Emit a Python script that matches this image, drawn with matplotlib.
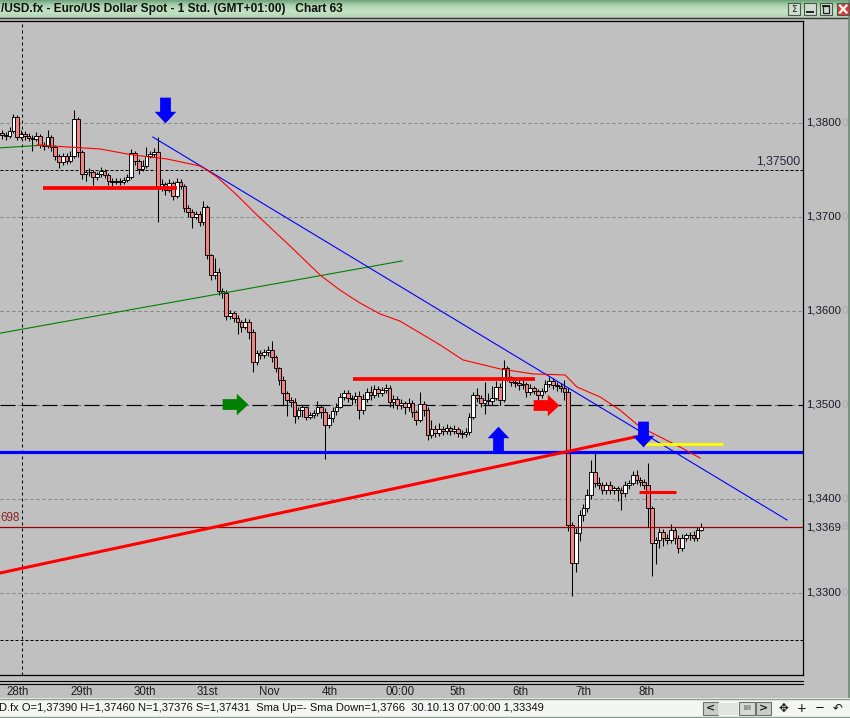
import matplotlib
matplotlib.use("Agg")
import matplotlib.pyplot as plt
import numpy as np
from matplotlib.path import Path
from matplotlib.patches import Rectangle
import matplotlib.transforms as mtrans

plt.rcParams['lines.scale_dashes'] = False

# ------------------------------------------------------------------ data
first_open = 1.3789
close = [
    1.3787, 1.3786, 1.3791, 1.3806, 1.3785, 1.3788, 1.3786, 1.3784, 1.3783, 1.3786,
    1.3776, 1.3775, 1.3785, 1.3774, 1.3765, 1.3758, 1.3765, 1.3759, 1.3765, 1.3804,
    1.3769, 1.3745, 1.3747, 1.3748, 1.3742, 1.3745, 1.3749, 1.3744, 1.3738, 1.3737,
    1.3738, 1.3737, 1.3739, 1.3742, 1.3768, 1.3759, 1.3751, 1.3754, 1.3765, 1.3767,
    1.3769, 1.3731, 1.3735, 1.3728, 1.3736, 1.3722, 1.3737, 1.3733, 1.3709, 1.3705,
    1.3700, 1.3703, 1.3694, 1.3710, 1.3659, 1.3638, 1.3641, 1.3621, 1.3619, 1.3594,
    1.3598, 1.3592, 1.3588, 1.3583, 1.3588, 1.3577, 1.3545, 1.3555, 1.3553, 1.3556,
    1.3558, 1.3551, 1.3539, 1.3526, 1.3512, 1.3505, 1.3503, 1.3488, 1.3494, 1.3497,
    1.3487, 1.3489, 1.3491, 1.3497, 1.3492, 1.3478, 1.3486, 1.3493, 1.3498, 1.3508,
    1.3512, 1.3507, 1.3506, 1.3509, 1.3494, 1.3506, 1.3514, 1.3510, 1.3517, 1.3512,
    1.3516, 1.3518, 1.3503, 1.3506, 1.3500, 1.3502, 1.3497, 1.3502, 1.3492, 1.3484,
    1.3501, 1.3494, 1.3468, 1.3474, 1.3470, 1.3474, 1.3472, 1.3475, 1.3472, 1.3474,
    1.3470, 1.3469, 1.3471, 1.3487, 1.3510, 1.3507, 1.3502, 1.3505, 1.3504, 1.3507,
    1.3519, 1.3505, 1.3539, 1.3529, 1.3524, 1.3523, 1.3521, 1.3522, 1.3514, 1.3518,
    1.3515, 1.3510, 1.3515, 1.3522, 1.3525, 1.3521, 1.3520, 1.3518, 1.3514, 1.3372,
    1.3332, 1.3364, 1.3383, 1.3390, 1.3404, 1.3428, 1.3417, 1.3415, 1.3409, 1.3415,
    1.3409, 1.3411, 1.3409, 1.3406, 1.3415, 1.3417, 1.3425, 1.3420, 1.3418, 1.3415,
    1.3390, 1.3353, 1.3356, 1.3365, 1.3358, 1.3356, 1.3367, 1.3358, 1.3347, 1.3358,
    1.3361, 1.3361, 1.3358, 1.3367, 1.3370,
]
high = [
    1.3792, 1.3790, 1.3795, 1.3809, 1.3808, 1.3792, 1.3791, 1.3789, 1.3787, 1.3790,
    1.3788, 1.3779, 1.3792, 1.3787, 1.3776, 1.3767, 1.3768, 1.3768, 1.3770, 1.3813,
    1.3806, 1.3771, 1.3750, 1.3752, 1.3750, 1.3748, 1.3753, 1.3751, 1.3746, 1.3741,
    1.3741, 1.3741, 1.3742, 1.3745, 1.3772, 1.3770, 1.3761, 1.3760, 1.3774, 1.3770,
    1.3773, 1.3785, 1.3740, 1.3737, 1.3740, 1.3738, 1.3741, 1.3740, 1.3735, 1.3712,
    1.3708, 1.3706, 1.3706, 1.3717, 1.3712, 1.3660, 1.3656, 1.3645, 1.3624, 1.3622,
    1.3601, 1.3600, 1.3595, 1.3590, 1.3592, 1.3591, 1.3580, 1.3558, 1.3558, 1.3559,
    1.3562, 1.3568, 1.3553, 1.3540, 1.3530, 1.3515, 1.3508, 1.3507, 1.3498, 1.3500,
    1.3499, 1.3492, 1.3494, 1.3504, 1.3500, 1.3496, 1.3490, 1.3497, 1.3502, 1.3512,
    1.3516, 1.3516, 1.3510, 1.3514, 1.3515, 1.3511, 1.3518, 1.3520, 1.3521, 1.3520,
    1.3519, 1.3522, 1.3521, 1.3510, 1.3509, 1.3506, 1.3504, 1.3507, 1.3505, 1.3494,
    1.3514, 1.3504, 1.3497, 1.3484, 1.3478, 1.3481, 1.3477, 1.3479, 1.3477, 1.3478,
    1.3476, 1.3473, 1.3475, 1.3491, 1.3513, 1.3518, 1.3510, 1.3524, 1.3512, 1.3520,
    1.3525, 1.3523, 1.3548, 1.3541, 1.3531, 1.3527, 1.3527, 1.3526, 1.3524, 1.3522,
    1.3520, 1.3517, 1.3518, 1.3526, 1.3529, 1.3528, 1.3524, 1.3523, 1.3526, 1.3518,
    1.3375, 1.3369, 1.3388, 1.3394, 1.3410, 1.3441, 1.3449, 1.3423, 1.3418, 1.3418,
    1.3419, 1.3414, 1.3413, 1.3412, 1.3419, 1.3420, 1.3429, 1.3431, 1.3423, 1.3421,
    1.3438, 1.3392, 1.3359, 1.3369, 1.3368, 1.3362, 1.3373, 1.3370, 1.3361, 1.3362,
    1.3364, 1.3365, 1.3366, 1.3370, 1.3374,
]
low = [
    1.3783, 1.3782, 1.3784, 1.3789, 1.3782, 1.3783, 1.3782, 1.3780, 1.3770, 1.3781,
    1.3773, 1.3771, 1.3773, 1.3770, 1.3760, 1.3752, 1.3755, 1.3756, 1.3757, 1.3762,
    1.3764, 1.3740, 1.3738, 1.3743, 1.3734, 1.3739, 1.3742, 1.3741, 1.3734, 1.3733,
    1.3735, 1.3734, 1.3735, 1.3737, 1.3740, 1.3755, 1.3745, 1.3749, 1.3752, 1.3762,
    1.3764, 1.3694, 1.3727, 1.3723, 1.3726, 1.3718, 1.3720, 1.3729, 1.3705, 1.3700,
    1.3688, 1.3697, 1.3690, 1.3691, 1.3655, 1.3633, 1.3634, 1.3617, 1.3614, 1.3590,
    1.3591, 1.3588, 1.3575, 1.3577, 1.3580, 1.3570, 1.3535, 1.3542, 1.3549, 1.3550,
    1.3552, 1.3545, 1.3535, 1.3521, 1.3500, 1.3488, 1.3497, 1.3481, 1.3485, 1.3487,
    1.3484, 1.3485, 1.3486, 1.3488, 1.3486, 1.3442, 1.3475, 1.3482, 1.3489, 1.3496,
    1.3505, 1.3503, 1.3500, 1.3502, 1.3485, 1.3490, 1.3503, 1.3505, 1.3507, 1.3508,
    1.3509, 1.3512, 1.3497, 1.3496, 1.3495, 1.3495, 1.3490, 1.3493, 1.3487, 1.3478,
    1.3482, 1.3488, 1.3462, 1.3465, 1.3466, 1.3467, 1.3468, 1.3469, 1.3468, 1.3469,
    1.3466, 1.3465, 1.3466, 1.3468, 1.3485, 1.3503, 1.3497, 1.3490, 1.3500, 1.3500,
    1.3505, 1.3500, 1.3503, 1.3525, 1.3520, 1.3519, 1.3516, 1.3517, 1.3508, 1.3510,
    1.3511, 1.3505, 1.3507, 1.3512, 1.3519, 1.3517, 1.3515, 1.3513, 1.3505, 1.3366,
    1.3296, 1.3322, 1.3355, 1.3376, 1.3386, 1.3400, 1.3412, 1.3410, 1.3405, 1.3405,
    1.3405, 1.3405, 1.3398, 1.3388, 1.3402, 1.3410, 1.3415, 1.3416, 1.3414, 1.3410,
    1.3370, 1.3318, 1.3330, 1.3347, 1.3350, 1.3352, 1.3353, 1.3352, 1.3342, 1.3344,
    1.3355, 1.3356, 1.3355, 1.3355, 1.3366,
]

date_labels = ["28th", "29th", "30th", "31st", "Nov", "4th", "00:00", "5th", "6th", "7th", "8th"]
date_pos = [4.2, 20.9, 37.6, 54.1, 70.4, 86.3, 104.7, 119.9, 136.5, 152.9, 169.5]

grid_levels = [1.3800, 1.3700, 1.3600, 1.3500, 1.3400, 1.3300]
axis_levels = [1.3800, 1.3700, 1.3600, 1.3500, 1.3400, 1.3300]
axis_labels = ["1,3800", "1,3700", "1,3600", "1,3500", "1,3400", "1,3300"]
short_dash_levels = [1.3750, 1.3250]
long_dash_level = 1.3500
blue_level = 1.3450
last_level = 1.33698
last_label = "1,3369"
vline_bar = 5.3

ma_up_x = [-1.0, 11.3]
ma_up_y = [1.37731, 1.37762]
ma_down_x = [9.2, 25.8, 34.5, 43.4, 52.1, 53.9, 56.6, 61.8, 67.1, 71.3, 75.8, 83.7, 88.9,
             94.2, 99.5, 104.7, 110.0, 115.3, 121.3, 131.1, 139.7, 148.2, 151.3, 157.4,
             162.6, 167.9, 173.2, 178.4, 183.7]
ma_down_y = [1.37762, 1.37720, 1.37656, 1.37614, 1.37539, 1.37497, 1.37422, 1.37231, 1.37018,
             1.36858, 1.36688, 1.36380, 1.36220, 1.36082, 1.35965, 1.35890, 1.35763, 1.35635,
             1.35476, 1.35380, 1.35327, 1.35316, 1.35188, 1.35082, 1.34944, 1.34763, 1.34656,
             1.34550, 1.34433]

blue_trend_x = [39.7, 206.6]
blue_trend_y = [1.37847, 1.33773]
red_trend_x = [-1.0, 167.9]
red_trend_y = [1.33205, 1.34667]
green_trend_x = [-1.0, 105.3]
green_trend_y = [1.35757, 1.36529]

red_seg_x = [(10.8, 46.1), (92.4, 140.3), (167.6, 177.4)]
red_seg_y = [1.37305, 1.35271, 1.34071]
yellow_seg_x = (167.9, 189.7)
yellow_seg_y = 1.34578

arrow_x = [42.8, 61.3, 130.5, 143.2, 168.6]
arrow_y = [1.38135, 1.35007, 1.34640, 1.34997, 1.34683]
arrow_dir = ["down", "right", "up", "right", "down"]
arrow_col = ["#0000FF", "#008000", "#0000FF", "#FF0000", "#0000FF"]

title_text = "/USD.fx - Euro/US Dollar Spot - 1 Std. (GMT+01:00)   Chart 63"
status_text = "D.fx O=1,37390 H=1,37460 N=1,37376 S=1,37431  Sma Up=- Sma Down=1,3766  30.10.13 07:00:00 1,33349"

# ------------------------------------------------------------------ figure
W, H = 850, 718
fig = plt.figure(figsize=(W / 100, H / 100), dpi=100)
fig.patch.set_facecolor('#C0C0C0')
FONT = ['Liberation Sans', 'DejaVu Sans']

bg = fig.add_axes([0, 0, 1, 1], zorder=0)
bg.set_xlim(0, W)
bg.set_ylim(H, 0)
bg.axis('off')

# title bar gradient
stops = np.array([[0.40, 0.60, 0.46], [0.66, 0.82, 0.67], [0.78, 0.89, 0.78], [0.70, 0.85, 0.71]])
t = np.linspace(0, 1, 40)
grad = np.stack([np.interp(t, np.linspace(0, 1, 4), stops[:, k]) for k in range(3)], axis=1)
bg.imshow(grad[:, None, :], extent=[0, W, 17.5, 0], aspect='auto', zorder=0)
bg.plot([0, W], [17.8, 17.8], color='#3a3a3a', lw=1.0, zorder=1)
bg.text(1, 8.8, title_text, fontsize=8.6, fontweight='bold', family=FONT,
        va='center', ha='left', color='#101010')

# title buttons
for x0, kind in [(788, 's'), (804, 'min'), (820, 'max'), (837, 'x')]:
    fc = '#E03838' if kind == 'x' else '#CFDDCF'
    bg.add_patch(Rectangle((x0, 3), 12.5, 12, facecolor=fc, edgecolor='#4a5a4a', lw=0.8, zorder=2))
    if kind == 's':
        bg.text(x0 + 6.2, 9, "Σ", fontsize=6.5, family='DejaVu Sans', ha='center', va='center', color='#202020', zorder=3)
    elif kind == 'min':
        bg.plot([x0 + 3, x0 + 9.5], [12, 12], color='#202020', lw=1.4, zorder=3)
    elif kind == 'max':
        bg.add_patch(Rectangle((x0 + 3, 5.5), 6.5, 7, facecolor='none', edgecolor='#202020', lw=0.9, zorder=3))
        bg.plot([x0 + 3, x0 + 9.5], [6, 6], color='#202020', lw=1.4, zorder=3)
    else:
        bg.plot([x0 + 3, x0 + 9.5], [5.5, 12.5], color='white', lw=1.6, zorder=3)
        bg.plot([x0 + 3, x0 + 9.5], [12.5, 5.5], color='white', lw=1.6, zorder=3)

# window right border
bg.plot([848.8, 848.8], [0, H], color='#6f8a78', lw=1.2, zorder=1)

# double line under the plot
bg.plot([0, 803], [680.5, 680.5], color='black', lw=0.8, zorder=1)
bg.plot([0, 803], [683.5, 683.5], color='black', lw=0.8, zorder=1)

# status bar
bg.add_patch(Rectangle((0, 698), W, 20, facecolor='#F3F6F3', edgecolor='none', zorder=1))
bg.plot([0, W], [698.5, 698.5], color='#8aa08c', lw=1.0, zorder=2)
bg.plot([0, W], [717.3, 717.3], color='#8aa08c', lw=1.0, zorder=2)
bg.text(-1, 708, status_text, fontsize=8.0, family=FONT, va='center', ha='left', color='#101010', zorder=3)
for x0, lab in [(703, '<'), (756, '>')]:
    bg.add_patch(Rectangle((x0, 702), 15, 13, facecolor='#C9CCC9', edgecolor='#6a726a', lw=0.8, zorder=2))
    bg.text(x0 + 7.5, 708.5, lab, fontsize=8, fontweight='bold', family='DejaVu Sans',
            ha='center', va='center', color='#202020', zorder=3)
bg.add_patch(Rectangle((718, 703), 20, 12, facecolor='#E2E4E2', edgecolor='none', hatch='....', zorder=2))
bg.add_patch(Rectangle((739, 702), 16, 13, facecolor='#D6D9D6', edgecolor='#6a726a', lw=0.8, zorder=2))
bg.text(747, 708.5, "IIII", fontsize=5, family='DejaVu Sans', ha='center', va='center', color='#303030', zorder=3)
for xc, sym in [(783, "✥"), (801.5, "+"), (819.5, "−"), (838, "↶")]:
    bg.text(xc, 708, sym, fontsize=8.5, family='DejaVu Sans', ha='center', va='center', color='#101010', zorder=3)

# ------------------------------------------------------------------ main chart
ax = fig.add_axes([0, (H - 675) / H, 803 / W, (675 - 20.5) / H], zorder=1)
ax.set_facecolor('#C0C0C0')
ax.set_xlim(-0.526, 210.8)
ax.set_ylim(1.32124, 1.39087)
ax.spines['left'].set_visible(False)
for s in ['top', 'right', 'bottom']:
    ax.spines[s].set_color('black')
    ax.spines[s].set_linewidth(0.9)
ax.set_yticks([])
ax.set_xticks(date_pos)
ax.set_xticklabels(date_labels, fontsize=8.3, family=FONT, color='#1c1c1c')
ax.tick_params(axis='x', length=0, pad=7.8)

px = 0.72  # one pixel in points

# grid & levels
for lv in grid_levels:
    ax.axhline(lv, color='#808080', lw=px, linestyle=(0, (3 * px, 3 * px)), zorder=1)
for lv in short_dash_levels:
    ax.axhline(lv, color='black', lw=px, linestyle=(0, (3 * px, 2 * px)), zorder=1.2)
ax.axhline(long_dash_level, color='black', lw=px * 1.2, linestyle=(0, (15 * px, 6 * px)), zorder=1.2)
ax.axvline(vline_bar, color='black', lw=px, linestyle=(0, (3 * px, 3 * px)), zorder=1.2)

# candles
c = np.array(close)
o = np.r_[first_open, c[:-1]]
hi = np.maximum(np.array(high), np.maximum(o, c))
lo = np.minimum(np.array(low), np.minimum(o, c))
x = np.arange(len(c))
up = c >= o
ax.vlines(x, lo, hi, color='black', lw=0.75, zorder=3)
ax.bar(x, np.abs(c - o), bottom=np.minimum(o, c), width=0.95,
       color=np.where(up, 'white', '#F48484'), edgecolor='black', linewidth=0.65,
       zorder=4)

# horizontal lines over candles
ax.axhline(blue_level, color='#0000FF', lw=2.3, zorder=5)
ax.axhline(last_level, color='#9A0000', lw=0.9, zorder=5)

# trend lines and moving average
ax.plot(green_trend_x, green_trend_y, color='#008000', lw=0.8, zorder=5)
ax.plot(blue_trend_x, blue_trend_y, color='#0000FF', lw=0.8, zorder=5)
ax.plot(red_trend_x, red_trend_y, color='#FF0000', lw=2.2, zorder=5)
ax.plot(ma_up_x, ma_up_y, color='#008000', lw=0.8, zorder=5)
ax.plot(ma_down_x, ma_down_y, color='#FF0000', lw=0.8, zorder=5)

for (x0, x1), yv in zip(red_seg_x, red_seg_y):
    lw = 2.7 if x1 - x0 > 20 else 2.2
    ax.plot([x0, x1], [yv, yv], color='#FF0000', lw=lw, zorder=6, solid_capstyle='butt')
ax.plot(list(yellow_seg_x), [yellow_seg_y] * 2, color='#FFFF00', lw=2.0, zorder=6, solid_capstyle='butt')

# arrows
def arrow_path(d):
    v = np.array([(-0.21, -0.5), (0.21, -0.5), (0.21, 0.05), (0.42, 0.05), (0.0, 0.5),
                  (-0.42, 0.05), (-0.21, 0.05), (-0.21, -0.5)])
    if d == 'down':
        v = v * np.array([1, -1])
    elif d == 'right':
        v = np.c_[v[:, 1], v[:, 0]]
    return Path(v, closed=True)

for xa, ya, d, col in zip(arrow_x, arrow_y, arrow_dir, arrow_col):
    ax.plot([xa], [ya], marker=arrow_path(d), markersize=18.5, color=col,
            markeredgewidth=0, linestyle='none', zorder=7)

# right price axis labels (main digits + faint extra digit right after)
tr = mtrans.blended_transform_factory(bg.transData, ax.transData)
for lv, lab, extra in list(zip(axis_levels, axis_labels, ["0"] * 6)) + [(last_level, last_label, "8")]:
    tt = ax.text(806, lv, lab, transform=tr, fontsize=8.2, family=FONT, va='center', ha='left',
                 color='#1a1a28', clip_on=False)
    ax.annotate(extra, xy=(1, 0.5), xycoords=tt, xytext=(0.2, 0), textcoords='offset points',
                fontsize=8.2, family=FONT, va='center', ha='left', color='#a8a8a8',
                annotation_clip=False)

# level labels inside the plot
ax.annotate("1,37500", xy=(800, short_dash_levels[0]), xycoords=tr, xytext=(0, 1.5),
            textcoords='offset points', ha='right', va='bottom', fontsize=8.8, family=FONT,
            color='#2a2a3c')
ax.annotate("698", xy=(0.5, last_level), xycoords=tr, xytext=(0, 2.5),
            textcoords='offset points', ha='left', va='bottom', fontsize=8.4, family=FONT,
            color='#8a2222')

fig.savefig("out.png", dpi=100, facecolor=fig.get_facecolor())
